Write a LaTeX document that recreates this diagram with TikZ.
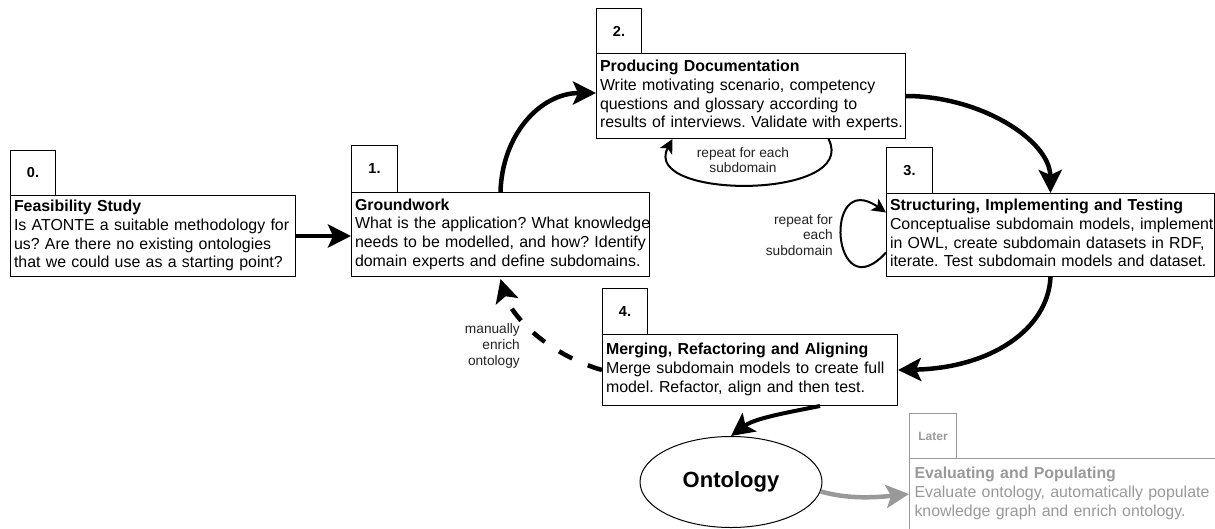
\documentclass[tikz,border=0pt]{standalone}
\usepackage{fontspec}
\setmainfont{Liberation Sans}
\usetikzlibrary{arrows.meta,shapes.geometric,calc}
\frenchspacing
\newcommand\bodyfont{\fontsize{15.9}{18.8}\selectfont}
\newcommand\tabfont{\fontsize{14.5}{16}\selectfont\bfseries}
\newcommand\smalltabfont{\fontsize{12}{14}\selectfont\bfseries}
\newcommand\lblfont{\fontsize{13.7}{15.8}\selectfont}
\newcommand\boxtext[2]{\begin{tabular}{@{}l@{}}\textbf{#1}\\#2\end{tabular}}
\definecolor{latergrey}{HTML}{999999}
\definecolor{lbl}{HTML}{222222}
\begin{document}
\begin{tikzpicture}[x=1pt,y=-1pt,
  box/.style={draw=black, line width=1pt, anchor=north west, inner xsep=3.5pt, inner ysep=0pt,
    align=left, font=\bodyfont, fill=white},
  tabbox/.style={draw=black, line width=1pt, anchor=north west, inner sep=0pt, font=\tabfont, fill=white},
  flow/.style={line width=4.5pt, -{Stealth[length=23pt,width=23pt,inset=5pt]}},
  flowdash/.style={flow, dash pattern=on 15pt off 17pt},
  flowgrey/.style={flow, draw=latergrey, line width=4.5pt},
  loopflow/.style={line width=2pt, -{Stealth[length=14pt,width=14pt,inset=3.5pt]}},
  lblnode/.style={font=\lblfont, text=lbl, inner sep=0pt}]
\useasboundingbox (0,0) rectangle (1215,528);
\clip (0,0) rectangle (1215,528);

% tabs
\node[tabbox, minimum width=45pt, minimum height=45pt] (t0) at (10,150) {0.};
\node[tabbox, minimum width=46pt, minimum height=47pt] (t1) at (351,145) {1.};
\node[tabbox, minimum width=45pt, minimum height=45pt] (t2) at (596,8) {2.};
\node[tabbox, minimum width=46pt, minimum height=46pt] (t3) at (886,147) {3.};
\node[tabbox, minimum width=45pt, minimum height=46pt] (t4) at (602,288) {4.};
\node[tabbox, draw=latergrey, text=latergrey, font=\smalltabfont, minimum width=47pt, minimum height=45pt] (tL) at (909,413) {Later};

% boxes
\node[box, minimum width=285pt, minimum height=81pt, text width=278pt] (b0) at (10,195)
  {\boxtext{Feasibility Study}{Is ATONTE a suitable methodology for\\us? Are there no existing ontologies\\that we could use as a starting point?}};
\node[box, minimum width=298pt, minimum height=84pt, text width=291pt] (b1) at (351,192)
  {\boxtext{Groundwork}{What is the application? What knowledge\\needs to be modelled, and how? Identify\\domain experts and define subdomains.}};
\node[box, minimum width=309pt, minimum height=85pt, text width=302pt] (b2) at (596,53)
  {\boxtext{Producing Documentation}{Write motivating scenario, competency\\questions and glossary according to\\results of interviews. Validate with experts.}};
\node[box, minimum width=328pt, minimum height=83pt, text width=321pt] (b3) at (886,193)
  {\boxtext{Structuring, Implementing and Testing}{Conceptualise subdomain models, implement\\in OWL, create subdomain datasets in RDF,\\iterate. Test subdomain models and dataset.}};
\node[box, minimum width=295pt, minimum height=71pt, text width=288pt] (b4) at (602,334)
  {\boxtext{Merging, Refactoring and Aligning}{Merge subdomain models to create full\\model. Refactor, align and then test.}};
\node[box, draw=latergrey, text=latergrey, minimum width=340pt, minimum height=71pt, text width=330pt, inner xsep=5pt] (bL) at (909,458)
  {\boxtext{Evaluating and Populating}{Evaluate ontology, automatically populate\\knowledge graph and enrich ontology.}};

% ontology
\node[draw=black, line width=1pt, ellipse, minimum width=182pt, minimum height=91pt, inner sep=0pt,
  font=\fontsize{22}{26}\selectfont\bfseries] (ont) at (731,482) {Ontology};

% labels
\node[lblnode, align=center] (l2) at (743,160) {repeat for each\\subdomain};
\node[lblnode, align=right, anchor=east] (l3) at (833,235) {repeat for\\each\\subdomain};
\node[lblnode, align=right, anchor=east] (l4) at (520,346) {manually\\enrich\\ontology};

% connectors
\draw[flow] (b0.east) -- (b0.east -| b1.west);
\draw[flow] (b1.north) .. controls (502,135) and (540,93) .. ([yshift=3pt]b2.west);
\draw[flow] (b2.east) .. controls (980,96) and (1050,140) .. (b3.north);
\draw[flow] (b3.south) .. controls (1048,330) and (990,368) .. (b4.east);
\draw[flow, line width=4pt] ([xshift=70pt]b4.south) .. controls (790,412) and (755,418) .. (ont.north);
\draw[flowdash] (b4.west) .. controls (550,355) and (512,318) .. ([yshift=-2pt]b1.south);
\draw[loopflow] ([xshift=77.5pt]b2.south) .. controls (860,200) and (640,200) .. ([xshift=-78.5pt]b2.south);
\draw[loopflow] ([yshift=-17.5pt]b3.west) .. controls (832,312) and (822,168) .. ([yshift=22.5pt]b3.west);
\draw[flowgrey] (ont.-6) .. controls (850,500) and (880,497) .. (bL.west);
\end{tikzpicture}
\end{document}
